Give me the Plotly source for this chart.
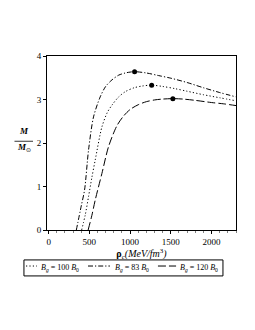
import plotly.graph_objects as go

# Central density (MeV/fm^3) and mass (M/M_sun) for each bag constant
rho_83 = [340, 400, 441, 490, 551, 633, 700, 777, 860, 941, 1000, 1055, 1200, 1350, 1500, 1700, 1900, 2100, 2300]
m_83 = [0.0, 0.55, 0.92, 1.84, 2.6, 3.06, 3.30, 3.45, 3.56, 3.61, 3.63, 3.64, 3.61, 3.55, 3.49, 3.39, 3.27, 3.16, 3.06]

rho_100 = [405, 450, 490, 530, 572, 654, 720, 777, 860, 941, 1050, 1150, 1265, 1400, 1550, 1700, 1900, 2100, 2300]
m_100 = [0.0, 0.35, 0.77, 1.2, 1.61, 2.37, 2.70, 2.87, 3.06, 3.18, 3.27, 3.31, 3.33, 3.30, 3.25, 3.19, 3.11, 3.04, 2.97]

rho_120 = [485, 530, 572, 654, 736, 839, 920, 1000, 1100, 1200, 1300, 1400, 1525, 1650, 1800, 2000, 2150, 2300]
m_120 = [0.0, 0.33, 0.69, 1.30, 1.92, 2.40, 2.62, 2.77, 2.88, 2.95, 2.99, 3.01, 3.02, 3.01, 2.98, 2.93, 2.90, 2.86]

peak_rho = [1055, 1265, 1525]
peak_m = [3.64, 3.33, 3.02]

labels = ["<i>B</i><sub><i>g</i></sub> = 100 <i>B</i><sub>0</sub>",
          "<i>B</i><sub><i>g</i></sub> = 83 <i>B</i><sub>0</sub>",
          "<i>B</i><sub><i>g</i></sub> = 120 <i>B</i><sub>0</sub>"]
dashes = ["1.2px,2.2px", "5px,2px,1.2px,2px", "8px,3px"]

font = "Liberation Serif"
fig = go.Figure()
line_common = dict(color="black", width=1, shape="spline", smoothing=0.8)
series = [(rho_100, m_100), (rho_83, m_83), (rho_120, m_120)]
for (xs, ys), lab, d in zip(series, labels, dashes):
    fig.add_trace(go.Scatter(x=xs, y=ys, mode="lines", name=lab, showlegend=False,
                             line=dict(dash=d, **line_common)))
fig.add_trace(go.Scatter(x=peak_rho, y=peak_m, mode="markers", showlegend=False,
                         marker=dict(color="black", size=5)))

fig.update_layout(
    width=255, height=330,
    margin=dict(l=39, r=27, t=48, b=108, autoexpand=False),
    paper_bgcolor="white", plot_bgcolor="white",
    font=dict(family=font, size=9, color="black"),
    showlegend=False,
    xaxis=dict(range=[-20, 2300], tickvals=[0, 500, 1000, 1500, 2000], automargin=False,
               showgrid=False, zeroline=False, showline=True, linecolor="black",
               linewidth=1, mirror=True, ticks="outside", ticklen=3, tickcolor="black",
               minor=dict(dtick=100, ticks="outside", ticklen=2, tickcolor="gray"),
               title=dict(text="<b>ρ</b><sub><i>c</i></sub><i>(MeV/fm</i><sup>3</sup><i>)</i>",
                          font=dict(size=10, family=font), standoff=0)),
    yaxis=dict(range=[0, 4], tickvals=[0, 1, 2, 3, 4], automargin=False,
               showgrid=False, zeroline=False, showline=True, linecolor="black",
               linewidth=1, mirror=True, ticks="outside", ticklen=3, tickcolor="black"),
)

# Y-axis fraction title
fig.add_annotation(xref="paper", yref="paper", x=-0.122, y=0.53, text="<b><i>M</i></b>",
                   showarrow=False, font=dict(size=9, family=font), xanchor="center", yanchor="bottom")
fig.add_annotation(xref="paper", yref="paper", x=-0.122, y=0.515,
                   text="<b><i>M</i></b><sub>⊙</sub>",
                   showarrow=False, font=dict(size=9, family=font), xanchor="center", yanchor="top")
fig.add_shape(type="line", xref="paper", yref="paper", x0=-0.172, x1=-0.074, y0=0.51, y1=0.51,
              line=dict(color="black", width=0.8))

# Legend (drawn manually to match the compact single-row box)
fig.add_shape(type="rect", xref="paper", yref="paper", x0=-0.122, x1=0.931, y0=-0.264, y1=-0.172,
              line=dict(color="black", width=1), fillcolor="white")
sample_x = [(-0.111, -0.053), (0.217, 0.333), (0.587, 0.683)]
text_x = [-0.040, 0.350, 0.695]
for (sx0, sx1), tx, lab, d in zip(sample_x, text_x, labels, dashes):
    fig.add_shape(type="line", xref="paper", yref="paper", x0=sx0, x1=sx1, y0=-0.207, y1=-0.207,
                  line=dict(color="black", width=1, dash=d))
    fig.add_annotation(xref="paper", yref="paper", x=tx, y=-0.218, text=lab, showarrow=False,
                       xanchor="left", yanchor="middle", font=dict(size=8, family=font))

fig.write_html("out.html")
